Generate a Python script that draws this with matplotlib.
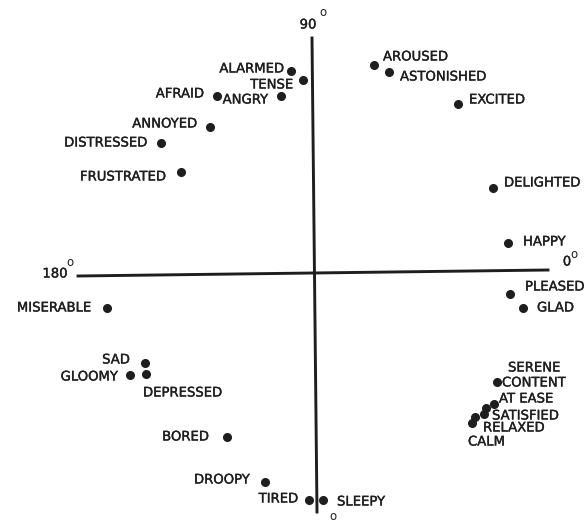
import numpy as np
import matplotlib
matplotlib.use('Agg')
import matplotlib.pyplot as plt
import matplotlib.patheffects as pe

# affect words, positions (origin = crossing of the axes)
words = ['ALARMED', 'TENSE', 'AFRAID', 'ANGRY', 'ANNOYED', 'DISTRESSED', 'FRUSTRATED',
         'AROUSED', 'ASTONISHED', 'EXCITED', 'DELIGHTED', 'HAPPY', 'PLEASED', 'GLAD',
         'SERENE', 'CONTENT', 'AT EASE', 'SATISFIED', 'RELAXED', 'CALM',
         'MISERABLE', 'SAD', 'GLOOMY', 'DEPRESSED', 'BORED', 'DROOPY', 'TIRED', 'SLEEPY']
x_vals = [-23, -11, -97, -33, -104, -153, -133,
          60, 75, 144, 179, 194, 196, 209,
          183, 180, 172, 170, 161, 158,
          -207, -169, -184, -168, -87, -49, -5, 9]
y_vals = [202, 193, 177, 177, 146, 130, 101,
          208, 201, 169, 85, 30, -21, -35,
          -109, -131, -135, -141, -144, -150,
          -35, -90, -102, -101, -164, -209, -227, -227]

# label placement (pixels from the dot, alignment)
label_pos = {
    'ALARMED': (-7, 2, 'right'), 'TENSE': (-10, -5, 'right'), 'AFRAID': (-13, 2, 'right'),
    'ANGRY': (-13, -4, 'right'), 'ANNOYED': (-13, 3, 'right'), 'DISTRESSED': (-14, 0, 'right'),
    'FRUSTRATED': (-15, -5, 'right'),
    'AROUSED': (9, 8, 'left'), 'ASTONISHED': (11, -5, 'left'), 'EXCITED': (11, 4, 'left'),
    'DELIGHTED': (11, 5, 'left'), 'HAPPY': (15, 1, 'left'), 'PLEASED': (15, 7, 'left'),
    'GLAD': (14, 0, 'left'),
    'SERENE': (11, 14, 'left'), 'CONTENT': (8, 21, 'left'), 'AT EASE': (13, 9, 'left'),
    'SATISFIED': (8, -2, 'left'), 'RELAXED': (8, -11, 'left'), 'CALM': (-4, -19, 'left'),
    'MISERABLE': (-16, 0, 'right'), 'SAD': (-15, 3, 'right'), 'GLOOMY': (-12, -2, 'right'),
    'DEPRESSED': (-3, -19, 'left'), 'BORED': (-18, 0, 'right'), 'DROOPY': (-15, 2, 'right'),
    'TIRED': (-11, 1, 'right'), 'SLEEPY': (14, -2, 'left'),
}

# axes of the circumplex (scan is slightly tilted)
h_axis_x = [-236, 234]
h_axis_y = [-3, 3]
v_axis_x = [-2, 3]
v_axis_y = [235, -239]

ink = '#1e1e1e'
plt.rcParams['font.family'] = 'DejaVu Sans'
bold_ish = [pe.withStroke(linewidth=0.25, foreground=ink)]

fig = plt.figure(figsize=(5.87, 5.24), dpi=100)
ax = fig.add_axes([0, 0, 1, 1])
ax.set_xlim(-314, 273)
ax.set_ylim(-251, 273)
ax.axis('off')

ax.plot(h_axis_x, h_axis_y, color=ink, lw=2.1)
ax.plot(v_axis_x, v_axis_y, color=ink, lw=2.1)

ax.plot(x_vals, y_vals, 'o', color=ink, markersize=5.5)

for w, x, y in zip(words, x_vals, y_vals):
    dx, dy, ha = label_pos[w]
    ax.annotate(w, (x, y), xytext=(dx, dy), textcoords='offset pixels',
                ha=ha, va='center', fontsize=9.5, color=ink, path_effects=bold_ish)

# degree labels
ax.text(-6, 248, '90', ha='center', va='center', fontsize=9.5, color=ink, path_effects=bold_ish)
ax.text(9, 260, 'o', ha='center', va='center', fontsize=8.5, color=ink)
ax.text(-259, -1, '180', ha='center', va='center', fontsize=9.5, color=ink, path_effects=bold_ish)
ax.text(-244, 11, 'o', ha='center', va='center', fontsize=8.5, color=ink)
ax.text(253, 11, '0', ha='center', va='center', fontsize=9.5, color=ink, path_effects=bold_ish)
ax.text(260, 18, 'o', ha='center', va='center', fontsize=8.5, color=ink)
ax.text(19, -244, 'o', ha='center', va='center', fontsize=8.5, color=ink)

fig.savefig('out.png', dpi=100)
